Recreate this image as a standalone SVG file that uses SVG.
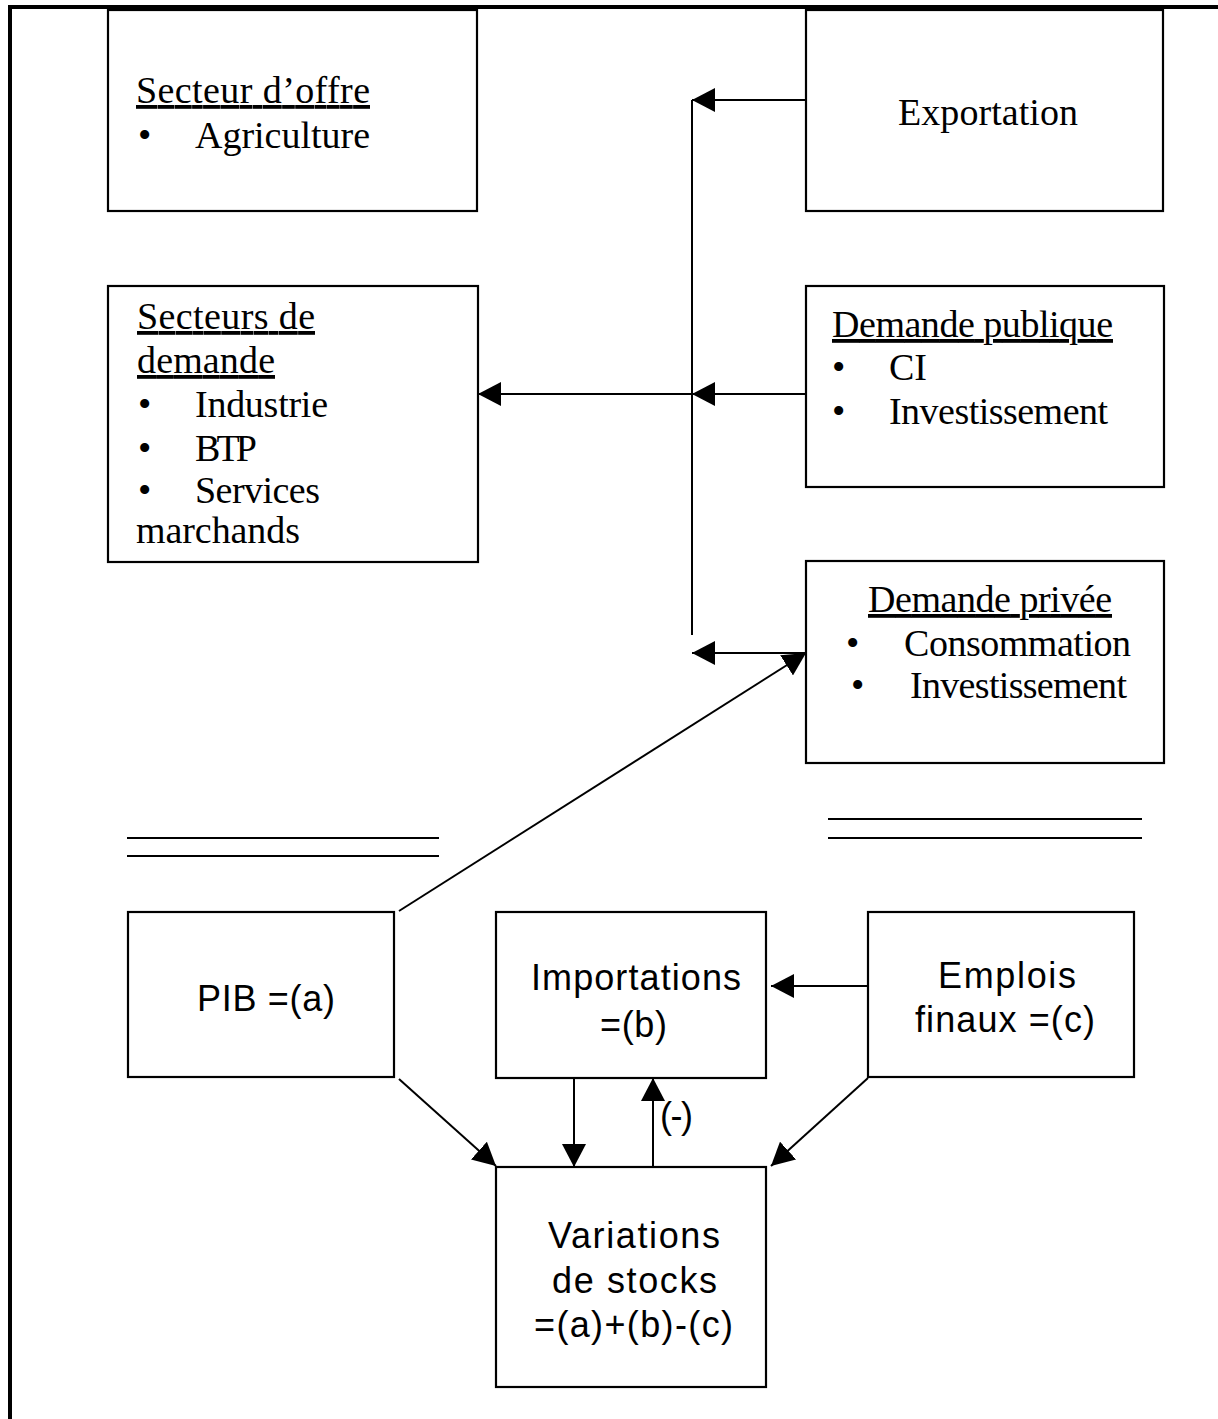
<svg xmlns="http://www.w3.org/2000/svg" width="1218" height="1419" viewBox="0 0 1218 1419">
<style>
.box{fill:#fff;stroke:#000;stroke-width:2.2}
.frame{fill:none;stroke:#000;stroke-width:4}
.c{fill:none;stroke:#000;stroke-width:2}
.dl{stroke:#000;stroke-width:2}
.t{font-family:"Liberation Serif","Times New Roman",serif;font-size:38px;fill:#000}
.s{font-family:"Liberation Sans",Arial,sans-serif;font-size:36px;fill:#000}
.u{text-decoration:underline}
</style>
<defs>
<marker id="ah" markerUnits="userSpaceOnUse" markerWidth="24" markerHeight="24" refX="23" refY="12" orient="auto">
<path d="M0,0 L23,12 L0,24 z" fill="#000"/>
</marker>
</defs>
<rect width="1218" height="1419" fill="#fff"/>
<g id="frame">
<path class="frame" d="M10,1419 V7 H1218"/>
</g>
<g id="offre">
<rect class="box" x="108" y="10" width="369" height="201"/>
<text class="t u" x="136" y="103" textLength="234" lengthAdjust="spacing">Secteur d’offre</text>
<text class="t" x="138" y="148">•</text>
<text class="t" x="195" y="148" textLength="175" lengthAdjust="spacing">Agriculture</text>
</g>
<g id="exportation">
<rect class="box" x="806" y="10" width="357" height="201"/>
<text class="t" x="898" y="125" textLength="180" lengthAdjust="spacing">Exportation</text>
</g>
<g id="demande">
<rect class="box" x="108" y="286" width="370" height="276"/>
<text class="t u" x="137" y="329" textLength="178" lengthAdjust="spacing">Secteurs de</text>
<text class="t u" x="137" y="373" textLength="138" lengthAdjust="spacing">demande</text>
<text class="t" x="138" y="417">•</text>
<text class="t" x="195" y="417" textLength="133" lengthAdjust="spacing">Industrie</text>
<text class="t" x="138" y="461">•</text>
<text class="t" x="195" y="461" textLength="62" lengthAdjust="spacing">BTP</text>
<text class="t" x="138" y="503">•</text>
<text class="t" x="195" y="503" textLength="125" lengthAdjust="spacing">Services</text>
<text class="t" x="136" y="543" textLength="164" lengthAdjust="spacing">marchands</text>
</g>
<g id="publique">
<rect class="box" x="806" y="286" width="358" height="201"/>
<text class="t u" x="832" y="337" textLength="281" lengthAdjust="spacing">Demande publique</text>
<text class="t" x="832" y="380">•</text>
<text class="t" x="889" y="380" textLength="38" lengthAdjust="spacing">CI</text>
<text class="t" x="832" y="424">•</text>
<text class="t" x="889" y="424" textLength="219" lengthAdjust="spacing">Investissement</text>
</g>
<g id="privee">
<rect class="box" x="806" y="561" width="358" height="202"/>
<text class="t u" x="868" y="612" textLength="244" lengthAdjust="spacing">Demande privée</text>
<text class="t" x="846" y="656">•</text>
<text class="t" x="904" y="656" textLength="227" lengthAdjust="spacing">Consommation</text>
<text class="t" x="851" y="698">•</text>
<text class="t" x="910" y="698" textLength="217" lengthAdjust="spacing">Investissement</text>
</g>
<g id="separators">
<line class="dl" x1="127" y1="838" x2="439" y2="838"/>
<line class="dl" x1="127" y1="856" x2="439" y2="856"/>
<line class="dl" x1="828" y1="819" x2="1142" y2="819"/>
<line class="dl" x1="828" y1="838" x2="1142" y2="838"/>
</g>
<g id="pib">
<rect class="box" x="128" y="912" width="266" height="165"/>
<text class="s" x="197" y="1011" textLength="138" lengthAdjust="spacing">PIB =(a)</text>
</g>
<g id="importations">
<rect class="box" x="496" y="912" width="270" height="166"/>
<text class="s" x="531" y="990" textLength="210" lengthAdjust="spacing">Importations</text>
<text class="s" x="600" y="1037" textLength="67" lengthAdjust="spacing">=(b)</text>
</g>
<g id="emplois">
<rect class="box" x="868" y="912" width="266" height="165"/>
<text class="s" x="938" y="988" textLength="138" lengthAdjust="spacing">Emplois</text>
<text class="s" x="915" y="1032" textLength="180" lengthAdjust="spacing">finaux =(c)</text>
</g>
<g id="variations">
<rect class="box" x="496" y="1167" width="270" height="220"/>
<text class="s" x="548" y="1248" textLength="172" lengthAdjust="spacing">Variations</text>
<text class="s" x="552" y="1293" textLength="165" lengthAdjust="spacing">de stocks</text>
<text class="s" x="534" y="1337" textLength="199" lengthAdjust="spacing">=(a)+(b)-(c)</text>
</g>
<g id="connectors">
<line class="c" x1="806" y1="100" x2="692" y2="100" marker-end="url(#ah)"/>
<line class="c" x1="692" y1="100" x2="692" y2="635"/>
<line class="c" x1="806" y1="394" x2="692" y2="394" marker-end="url(#ah)"/>
<line class="c" x1="692" y1="394" x2="478" y2="394" marker-end="url(#ah)"/>
<line class="c" x1="806" y1="653" x2="692" y2="653" marker-end="url(#ah)"/>
<line class="c" x1="399" y1="911" x2="806" y2="653" marker-end="url(#ah)"/>
<line class="c" x1="868" y1="986" x2="771" y2="986" marker-end="url(#ah)"/>
<line class="c" x1="574" y1="1078" x2="574" y2="1167" marker-end="url(#ah)"/>
<line class="c" x1="653" y1="1167" x2="653" y2="1078" marker-end="url(#ah)"/>
<line class="c" x1="399" y1="1079" x2="496" y2="1166" marker-end="url(#ah)"/>
<line class="c" x1="868" y1="1078" x2="771" y2="1166" marker-end="url(#ah)"/>
<text class="s" x="660" y="1128" textLength="33" lengthAdjust="spacing">(-)</text>
</g>
</svg>
